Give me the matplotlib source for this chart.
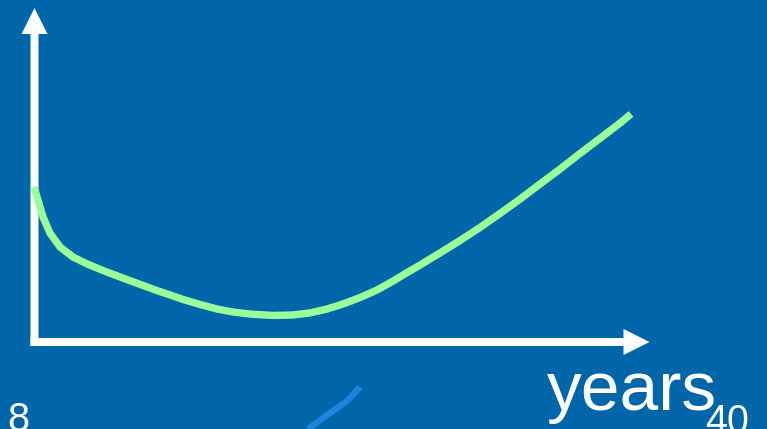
import matplotlib.pyplot as plt
from matplotlib.patches import FancyArrow

# curve: age in years vs. level (0 at the x axis, 100 at the end of the curve)
years = [7.95, 8.16, 8.43, 8.80, 9.34, 10.04, 10.79, 11.65, 12.72, 13.79,
         14.59, 15.08, 15.93, 16.84, 17.76, 18.61, 19.52, 20.76, 21.83,
         22.74, 23.65, 24.51, 25.42, 26.33, 27.19, 27.94, 28.64, 29.71,
         30.78, 31.85, 32.92, 34.00, 35.07, 36.14, 37.21, 38.28, 39.36, 39.95]
level = [67.7, 62.0, 54.6, 47.6, 41.5, 37.1, 34.1, 31.2, 27.9, 24.7,
         22.3, 21.0, 18.6, 16.4, 14.4, 13.1, 12.2, 11.6, 11.8,
         12.7, 14.4, 16.6, 19.4, 22.7, 26.6, 30.3, 33.6, 38.9,
         44.3, 50.0, 56.1, 62.4, 69.0, 75.5, 82.3, 88.9, 95.6, 99.6]

# faint blue stroke near the bottom (canvas pixels)
stroke_x = [308, 330, 347, 360]
stroke_y = [429, 413, 401, 387]

x_start, x_end = "8", "40"
x_title = "years"

BG = "#0066AA"
W, H = 767, 429

fig = plt.figure(figsize=(W / 100, H / 100), dpi=100)
fig.patch.set_facecolor(BG)

# canvas layer in pixel units for arrows and text
canvas = fig.add_axes([0, 0, 1, 1])
canvas.set_xlim(0, W)
canvas.set_ylim(H, 0)
canvas.axis("off")
canvas.set_facecolor(BG)

canvas.add_patch(FancyArrow(34.5, 346, 0, -338, width=8, head_width=26,
                            head_length=26, length_includes_head=True,
                            color="white", lw=0))
canvas.add_patch(FancyArrow(30.5, 342, 619, 0, width=8, head_width=26,
                            head_length=26, length_includes_head=True,
                            color="white", lw=0))

canvas.plot(stroke_x, stroke_y, color="#1C86DC", lw=4.5, solid_capstyle="butt",
            solid_joinstyle="round")

canvas.text(547, 410, x_title, color="white", fontsize=50,
            family="Liberation Sans", va="baseline", ha="left")
canvas.text(7, 431, x_start, color="white", fontsize=28.5,
            family="Liberation Sans", va="baseline", ha="left")
canvas.text(705, 433, x_end, color="white", fontsize=28.5,
            family="Liberation Sans", va="baseline", ha="left")

# plot area: origin at the corner of the arrows
x0, y0, x1, y1 = 35, 342, 632, 113
ax = fig.add_axes([x0 / W, (H - y0) / H, (x1 - x0) / W, (y0 - y1) / H])
ax.set_xlim(8, 40)
ax.set_ylim(0, 100)
ax.axis("off")
ax.patch.set_alpha(0)
ax.plot(years, level, color="#99FF99", lw=5.3, clip_on=False,
        solid_capstyle="butt", solid_joinstyle="round")

fig.savefig("out.png", dpi=100, facecolor=BG)
